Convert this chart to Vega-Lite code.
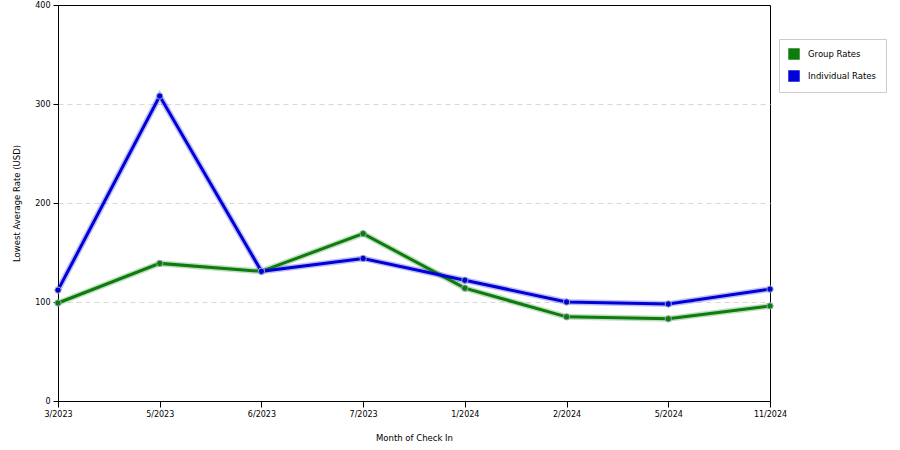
{
  "$schema": "https://vega.github.io/schema/vega-lite/v6.json",
  "width": 712,
  "height": 396,
  "autosize": {"type": "none"},
  "padding": {"left": 58, "top": 5, "right": 130, "bottom": 49},
  "background": "white",
  "config": {
    "font": "DejaVu Sans",
    "view": {"stroke": "#000000", "strokeWidth": 1},
    "axis": {"labelFont": "DejaVu Sans", "titleFont": "DejaVu Sans", "labelFontSize": 8, "titleFontSize": 8.5, "titleFontWeight": "normal", "labelColor": "#000", "titleColor": "#000", "domainColor": "#000", "tickColor": "#000"}
  },
  "data": {
    "values": [
      {"Month": "3/2023", "Series": "Group Rates", "Rate": 99},
      {"Month": "5/2023", "Series": "Group Rates", "Rate": 139},
      {"Month": "6/2023", "Series": "Group Rates", "Rate": 131},
      {"Month": "7/2023", "Series": "Group Rates", "Rate": 169},
      {"Month": "1/2024", "Series": "Group Rates", "Rate": 114},
      {"Month": "2/2024", "Series": "Group Rates", "Rate": 85},
      {"Month": "5/2024", "Series": "Group Rates", "Rate": 83},
      {"Month": "11/2024", "Series": "Group Rates", "Rate": 96},
      {"Month": "3/2023", "Series": "Individual Rates", "Rate": 112},
      {"Month": "5/2023", "Series": "Individual Rates", "Rate": 308},
      {"Month": "6/2023", "Series": "Individual Rates", "Rate": 131},
      {"Month": "7/2023", "Series": "Individual Rates", "Rate": 144},
      {"Month": "1/2024", "Series": "Individual Rates", "Rate": 122},
      {"Month": "2/2024", "Series": "Individual Rates", "Rate": 100},
      {"Month": "5/2024", "Series": "Individual Rates", "Rate": 98},
      {"Month": "11/2024", "Series": "Individual Rates", "Rate": 113}
    ]
  },
  "encoding": {
    "x": {
      "field": "Month",
      "type": "ordinal",
      "sort": ["3/2023", "5/2023", "6/2023", "7/2023", "1/2024", "2/2024", "5/2024", "11/2024"],
      "scale": {"type": "point", "padding": 0},
      "title": "Month of Check In",
      "axis": {"labelAngle": 0, "grid": false, "tickSize": 6, "labelPadding": 3, "titlePadding": 15}
    },
    "y": {
      "field": "Rate",
      "type": "quantitative",
      "scale": {"domain": [0, 400]},
      "title": "Lowest Average Rate (USD)",
      "axis": {
        "values": [0, 100, 200, 300, 400],
        "tickSize": 5,
        "labelPadding": 3,
        "titlePadding": 13,
        "gridColor": "#d8d8d8",
        "gridDash": [5, 4],
        "gridOpacity": {"condition": {"test": "datum.value == 0 || datum.value == 400", "value": 0}, "value": 1}
      }
    },
    "color": {
      "field": "Series",
      "type": "nominal",
      "scale": {"domain": ["Group Rates", "Individual Rates"], "range": ["#0c7c0c", "#0000d8"]},
      "legend": {
        "title": null,
        "orient": "none",
        "legendX": 721,
        "legendY": 34,
        "symbolType": "square",
        "symbolSize": 120,
        "labelFontSize": 8.5,
        "labelFont": "DejaVu Sans",
        "labelColor": "#000",
        "labelOffset": 8,
        "rowPadding": 8,
        "padding": 9,
        "strokeColor": "#cccccc",
        "fillColor": "white",
        "encode": {
          "symbols": {"update": {"fill": {"scale": "color", "field": "value"}, "stroke": {"value": "#333"}, "strokeWidth": {"value": 0.5}, "opacity": {"value": 1}}}
        }
      }
    }
  },
  "layer": [
    {"mark": {"type": "line", "strokeWidth": 6, "opacity": 0.25}},
    {"mark": {"type": "line", "strokeWidth": 3}},
    {"mark": {"type": "point", "filled": true, "size": 40, "opacity": 1, "stroke": "#9ab", "strokeWidth": 1}}
  ]
}
